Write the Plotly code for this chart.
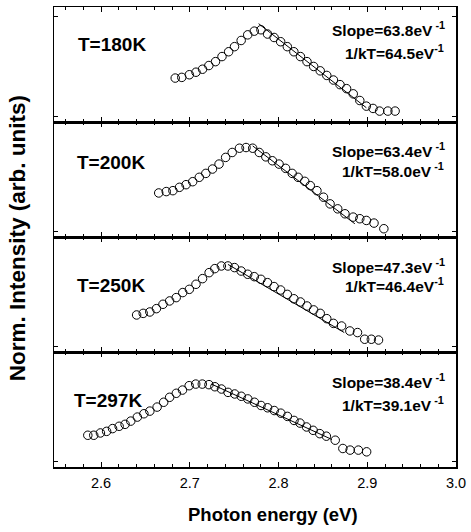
import plotly.graph_objects as go
from plotly.subplots import make_subplots

# ---------------- data ----------------
temps = ["T=180K", "T=200K", "T=250K", "T=297K"]
slope_txt = ["Slope=63.8eV<sup> -1</sup>", "Slope=63.4eV<sup> -1</sup>",
             "Slope=47.3eV<sup> -1</sup>", "Slope=38.4eV<sup> -1</sup>"]
kt_txt = ["1/kT=64.5eV<sup>-1</sup>", "1/kT=58.0eV<sup> -1</sup>",
          "1/kT=46.4eV<sup>-1</sup>", "1/kT=39.1eV<sup> -1</sup>"]

x180 = [2.6836, 2.691, 2.6995, 2.707, 2.7144, 2.7215, 2.729, 2.7363, 2.7438, 2.7504,
        2.7579, 2.7653, 2.7727, 2.7802, 2.7876, 2.795, 2.8024, 2.8099, 2.8173, 2.8247,
        2.8321, 2.8396, 2.847, 2.8544, 2.8619, 2.8693, 2.8767, 2.8842, 2.8916, 2.899,
        2.9065, 2.9139, 2.9232, 2.9314]
y180 = [0.382, 0.388, 0.411, 0.433, 0.459, 0.491, 0.525, 0.569, 0.611, 0.655,
        0.709, 0.758, 0.790, 0.802, 0.765, 0.735, 0.698, 0.655, 0.611, 0.569,
        0.525, 0.483, 0.445, 0.405, 0.365, 0.325, 0.290, 0.245, 0.187, 0.138,
        0.118, 0.095, 0.095, 0.095]
fit180_x = [2.7776, 2.899]
fit180_y = [0.855, 0.124]

x200 = [2.665, 2.6735, 2.681, 2.6884, 2.6958, 2.7033, 2.7107, 2.7181, 2.7256, 2.733,
        2.7404, 2.7478, 2.756, 2.7634, 2.7709, 2.7783, 2.7857, 2.7931, 2.8006, 2.808,
        2.8154, 2.8221, 2.8296, 2.8358, 2.8433, 2.8507, 2.8581, 2.8667, 2.8749, 2.8841,
        2.8916, 2.899, 2.9076, 2.9187]
y200 = [0.383, 0.395, 0.403, 0.432, 0.455, 0.481, 0.519, 0.553, 0.591, 0.634,
        0.692, 0.735, 0.772, 0.778, 0.772, 0.735, 0.697, 0.663, 0.634, 0.597,
        0.553, 0.519, 0.484, 0.447, 0.403, 0.346, 0.288, 0.245, 0.202, 0.173,
        0.159, 0.144, 0.121, 0.072]
fit200_x = [2.7709, 2.886]
fit200_y = [0.792, 0.115]

x250 = [2.6401, 2.6475, 2.655, 2.6624, 2.6698, 2.6773, 2.6847, 2.6921, 2.6995, 2.707,
        2.7144, 2.7218, 2.7282, 2.7356, 2.743, 2.7504, 2.7579, 2.7653, 2.7727, 2.7802,
        2.7876, 2.795, 2.8024, 2.8099, 2.8173, 2.8247, 2.8321, 2.8396, 2.847, 2.8544,
        2.8619, 2.8711, 2.8804, 2.889, 2.8971, 2.9046, 2.9127]
y250 = [0.322, 0.336, 0.348, 0.377, 0.415, 0.444, 0.473, 0.517, 0.545, 0.589,
        0.638, 0.690, 0.725, 0.748, 0.748, 0.734, 0.704, 0.676, 0.655, 0.632,
        0.603, 0.569, 0.539, 0.501, 0.463, 0.435, 0.400, 0.366, 0.336, 0.290,
        0.249, 0.226, 0.183, 0.169, 0.111, 0.111, 0.104]
fit250_x = [2.743, 2.8741]
fit250_y = [0.762, 0.169]

x297 = [2.5851, 2.5918, 2.5993, 2.6063, 2.613, 2.6204, 2.6271, 2.6335, 2.6409, 2.6483,
        2.655, 2.6632, 2.6706, 2.6773, 2.6848, 2.6918, 2.6993, 2.7067, 2.7141, 2.7216,
        2.7283, 2.7357, 2.7431, 2.7506, 2.758, 2.7654, 2.7729, 2.7803, 2.7877, 2.7952,
        2.8026, 2.81, 2.8175, 2.8242, 2.8316, 2.839, 2.8465, 2.8539, 2.8639, 2.8725,
        2.8807, 2.89, 2.8993]
y297 = [0.276, 0.276, 0.296, 0.310, 0.334, 0.354, 0.371, 0.399, 0.434, 0.463,
        0.486, 0.521, 0.563, 0.606, 0.641, 0.669, 0.707, 0.721, 0.721, 0.716,
        0.698, 0.678, 0.649, 0.635, 0.615, 0.592, 0.563, 0.535, 0.515, 0.491,
        0.468, 0.440, 0.405, 0.382, 0.348, 0.319, 0.290, 0.268, 0.233, 0.161,
        0.147, 0.147, 0.132]
fit297_x = [2.7245, 2.8602]
fit297_y = [0.721, 0.239]

xs = [x180, x200, x250, x297]
ys = [y180, y200, y250, y297]
fxs = [fit180_x, fit200_x, fit250_x, fit297_x]
fys = [fit180_y, fit200_y, fit250_y, fit297_y]

x_ticks = [2.6, 2.7, 2.8, 2.9, 3.0]
x_range = [2.547, 3.0]

# ---------------- layout constants ----------------
W, H = 471, 532
ML, MR, MT, MB = 54, 11, 5, 65
FONT = "Arial, Liberation Sans, sans-serif"

t_pos = [(0.055, 0.675), (0.052, 0.65), (0.052, 0.58), (0.045, 0.575)]
s_pos = [0.81, 0.76, 0.75, 0.75]
k_pos = [0.61, 0.585, 0.58, 0.55]

fig = make_subplots(rows=4, cols=1, vertical_spacing=0, shared_xaxes=False)

for i in range(4):
    r = i + 1
    fig.add_trace(go.Scatter(x=xs[i], y=ys[i], mode="markers",
                             marker=dict(symbol="circle-open", size=8.5,
                                         color="black", line=dict(width=1, color="black")),
                             showlegend=False, hoverinfo="skip"), row=r, col=1)
    fig.add_trace(go.Scatter(x=fxs[i], y=fys[i], mode="lines",
                             line=dict(color="black", width=1), showlegend=False,
                             hoverinfo="skip"),
                  row=r, col=1)
    bottom = (r == 4)
    fig.update_xaxes(range=x_range, tickmode="array", tickvals=x_ticks,
                     ticktext=[f"{v:.1f}" for v in x_ticks],
                     showticklabels=bottom, ticks="inside", ticklen=5, tickwidth=1,
                     tickcolor="black", showline=True, linecolor="black", linewidth=1.5,
                     mirror="ticks", showgrid=False, zeroline=False,
                     ticklabelstandoff=2,
                     minor=dict(tickmode="linear", tick0=2.6, dtick=0.02, ticks="inside",
                                ticklen=3, tickwidth=1, tickcolor="black", showgrid=False),
                     tickfont=dict(family=FONT, size=14.5, color="black"),
                     row=r, col=1)
    yt = [0.05, 0.92] if r == 1 else [0.05]
    fig.update_yaxes(range=[0, 1], tickmode="array", tickvals=yt, showticklabels=False,
                     ticks="inside", ticklen=4, tickwidth=1, tickcolor="black",
                     showline=True, linecolor="black", linewidth=1.5, mirror="ticks",
                     showgrid=False, zeroline=False, row=r, col=1)

    xa = "x domain" if r == 1 else f"x{r} domain"
    ya = "y domain" if r == 1 else f"y{r} domain"
    fig.add_annotation(text=temps[i], xref=xa, yref=ya, x=t_pos[i][0], y=t_pos[i][1],
                       xanchor="left", yanchor="middle", showarrow=False,
                       font=dict(family=FONT, size=19, color="black", weight="bold"))
    fig.add_annotation(text=slope_txt[i], xref=xa, yref=ya, x=0.978, y=s_pos[i],
                       xanchor="right", yanchor="middle", showarrow=False,
                       font=dict(family=FONT, size=15.5, color="black", weight="bold"))
    fig.add_annotation(text=kt_txt[i], xref=xa, yref=ya, x=0.975, y=k_pos[i],
                       xanchor="right", yanchor="middle", showarrow=False,
                       font=dict(family=FONT, size=15.5, color="black", weight="bold"))

pw = W - ML - MR
ph = H - MT - MB
fig.add_annotation(text="Photon energy (eV)", xref="paper", yref="paper",
                   x=(275 - ML) / pw, y=-(515 - (H - MB)) / ph, xanchor="center",
                   yanchor="middle", showarrow=False,
                   font=dict(family=FONT, size=18.5, color="black", weight="bold"))
fig.add_annotation(text="Norm. Intensity (arb. units)", xref="paper", yref="paper",
                   x=-(ML - 18) / pw, y=(H - MB - 237) / ph, xanchor="center",
                   yanchor="middle", textangle=-90, showarrow=False,
                   font=dict(family=FONT, size=22.5, color="black", weight="bold"))

fig.update_layout(width=W, height=H, margin=dict(l=ML, r=MR, t=MT, b=MB),
                  plot_bgcolor="white", paper_bgcolor="white", hovermode=False)

fig.write_html("out.html", config={"displayModeBar": False, "staticPlot": True},
               post_script="document.body.style.margin='0';document.body.style.padding='0';")
